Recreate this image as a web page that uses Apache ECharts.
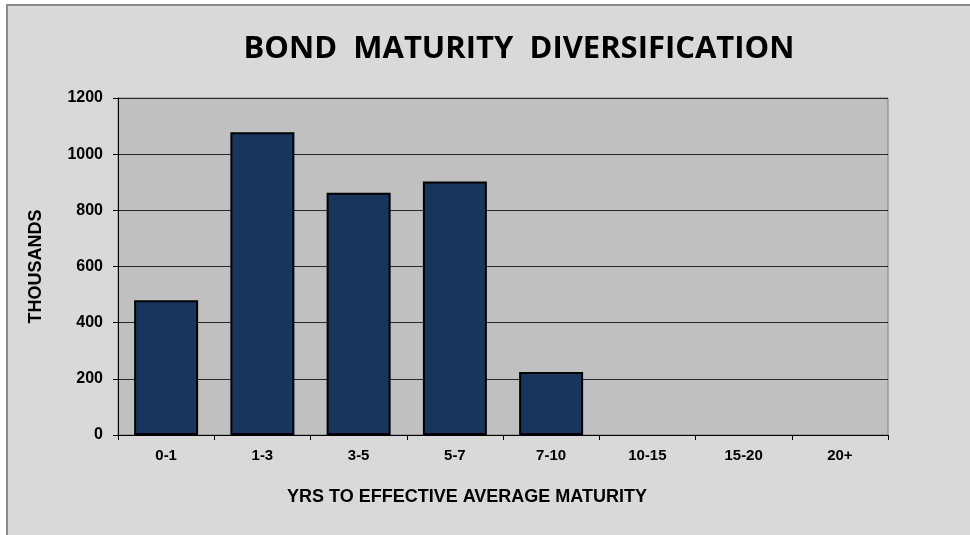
<!DOCTYPE html>
<html>
<head>
<meta charset="utf-8">
<title>Bond Maturity Diversification</title>
<script src="https://cdn.jsdelivr.net/npm/echarts@6/dist/echarts.min.js"></script>
<style>
  html, body { margin: 0; padding: 0; background: #ffffff; }
  #chart { width: 970px; height: 535px; }
</style>
</head>
<body>
<div id="chart"></div>
<script>
// Maturity buckets (years) and holdings in thousands
const maturityBuckets = ['0-1', '1-3', '3-5', '5-7', '7-10', '10-15', '15-20', '20+'];
const holdingsThousands = [480, 1078, 863, 903, 224, 0, 0, 0];
const valueTicks = { min: 0, max: 1200, step: 200 };

const chartTitle = 'BOND  MATURITY  DIVERSIFICATION';
const xAxisTitle = 'YRS TO EFFECTIVE AVERAGE MATURITY';
const yAxisTitle = 'THOUSANDS';

const labelFont = '"Liberation Sans", Arial, sans-serif';

// Empty buckets get no outline so nothing shows on the baseline
const barData = holdingsThousands.map(v =>
  v === 0 ? { value: v, itemStyle: { borderWidth: 0 } } : v
);

const chart = echarts.init(document.getElementById('chart'), null, { renderer: 'canvas' });

chart.setOption({
  backgroundColor: '#ffffff',
  animation: false,
  graphic: [{
    type: 'rect',
    z: -100,
    silent: true,
    shape: { x: 7, y: 5, width: 1000, height: 600 },
    style: { fill: '#d9d9d9', stroke: '#8a8a8a', lineWidth: 2 }
  }],
  title: [{
    text: chartTitle,
    left: 514,
    top: 29,
    textAlign: 'center',
    textStyle: {
      fontFamily: '"Open Sans", sans-serif',
      fontWeight: 'bold',
      fontSize: 31,
      color: '#000000'
    }
  }, {
    text: xAxisTitle,
    left: 462,
    top: 483,
    textAlign: 'center',
    textStyle: {
      fontFamily: labelFont,
      fontWeight: 'bold',
      fontSize: 18,
      color: '#000000'
    }
  }],
  grid: {
    left: 118,
    right: 82,
    top: 98,
    bottom: 100,
    show: true,
    backgroundColor: '#c0c0c0',
    borderColor: '#808080',
    borderWidth: 1
  },
  xAxis: {
    type: 'category',
    data: maturityBuckets,
    boundaryGap: true,
    axisLine: { show: true, lineStyle: { color: '#000000', width: 1 } },
    axisTick: { show: true, length: 5, inside: false, lineStyle: { color: '#000000' } },
    axisLabel: {
      margin: 13,
      fontFamily: labelFont,
      fontWeight: 'bold',
      fontSize: 15,
      color: '#000000'
    },
    splitLine: { show: false }
  },
  yAxis: {
    type: 'value',
    min: valueTicks.min,
    max: valueTicks.max,
    interval: valueTicks.step,
    name: yAxisTitle,
    nameLocation: 'middle',
    nameRotate: 90,
    nameGap: 73,
    nameTextStyle: {
      fontFamily: labelFont,
      fontWeight: 'bold',
      fontSize: 18,
      color: '#000000'
    },
    axisLine: { show: true, lineStyle: { color: '#000000', width: 1 } },
    axisTick: { show: true, length: 5, inside: false, lineStyle: { color: '#000000' } },
    axisLabel: {
      margin: 15,
      formatter: v => String(v),
      fontFamily: labelFont,
      fontWeight: 'bold',
      fontSize: 16,
      color: '#000000'
    },
    splitLine: { show: true, lineStyle: { color: '#2a2a2a', width: 1 } }
  },
  series: [{
    type: 'bar',
    data: barData,
    barWidth: 64,
    itemStyle: {
      color: '#18365d',
      borderColor: '#000000',
      borderWidth: 2
    }
  }]
});
</script>
</body>
</html>
